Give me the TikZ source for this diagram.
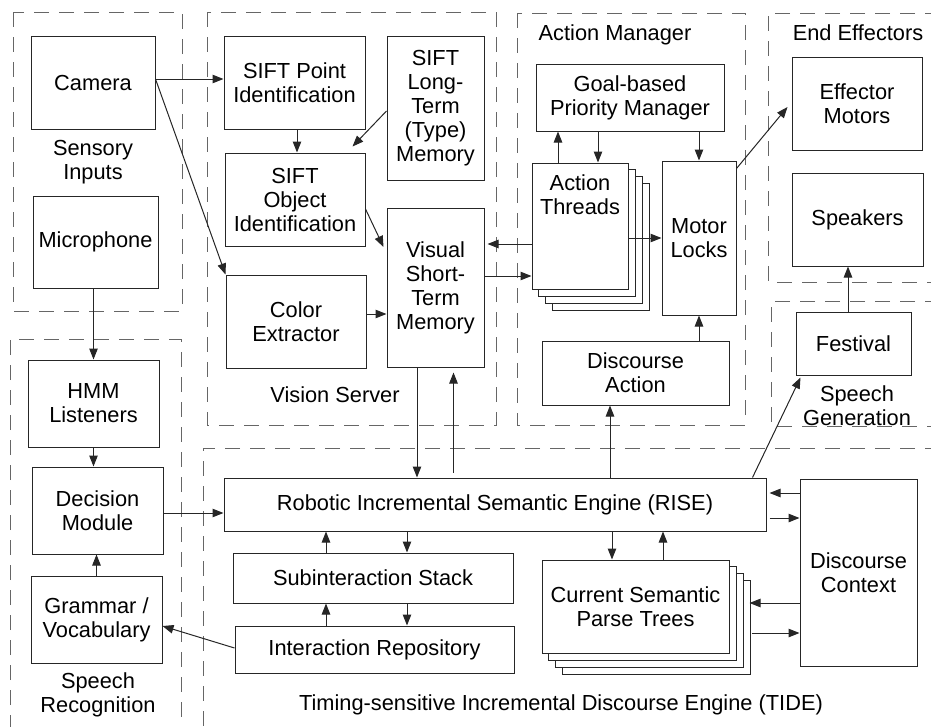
\documentclass[tikz,border=0pt]{standalone}
\usepackage{fontspec}
\setmainfont{Liberation Sans}
\usetikzlibrary{arrows.meta,backgrounds}

\begin{document}
\begin{tikzpicture}[x=1pt,y=-1pt,
  every node/.style={font=\fontsize{21.8}{24}\selectfont, align=center, inner sep=0pt},
  box/.style={draw=black!85, line width=1pt, fill=white},
  region/.style={draw=black!60, line width=0.9pt, dash pattern=on 15pt off 10pt},
  arr/.style={draw=black!85, line width=1pt, -{Triangle[length=11pt,width=8.5pt]}}]
\useasboundingbox (0,0) rectangle (931,726);

% dashed subsystem regions
\draw[region] (13,12) rectangle (182,311);
\draw[region] (10,730) -- (10,339) -- (181,339) -- (181,730);
\draw[region] (207,12) rectangle (496,425);
\draw[region] (517,13) rectangle (745,425);
\draw[region] (940,13) -- (768,13) -- (768,282) -- (940,282);
\draw[region] (940,301) -- (771,301) -- (771,426) -- (940,426);
\draw[region] (940,448) -- (203,448) -- (203,730);

% region titles
\node (lsens) at (93,162) {Sensory\\Inputs};
\node (lsrec) at (98,695) {Speech\\Recognition};
\node (lvis) at (335,395) {Vision Server};
\node (lact) at (615,35) {Action Manager};
\node (lend) at (858,33) {End Effectors};
\node (lsgen) at (857,406) {Speech\\Generation};
\node (ltide) at (561,705) {Timing-sensitive Incremental Discourse Engine (TIDE)};

% sensory inputs and speech recognition
\node[box, minimum width=124pt, minimum height=93pt] (cam) at (93,82.5) {Camera};
\node[box, minimum width=125pt, minimum height=92pt] (mic) at (95.5,242) {Microphone};
\node[box, minimum width=131pt, minimum height=87pt] (hmm) at (93.5,403.5) {HMM\\Listeners};
\node[box, minimum width=131pt, minimum height=87pt] (dec) at (97.5,510.5) {Decision\\Module};
\node[box, minimum width=131pt, minimum height=87pt] (gram) at (96.5,619.5) {Grammar /\\Vocabulary};

% vision server
\node[box, minimum width=141pt, minimum height=93pt] (sp) at (294.5,82.5) {SIFT Point\\Identification};
\node[box, minimum width=97pt, minimum height=144pt] (slt) at (435.5,108) {SIFT\\Long-\\Term\\(Type)\\Memory};
\node[box, minimum width=140pt, minimum height=93pt] (so) at (295,199.5) {SIFT\\Object\\Identification};
\node[box, minimum width=140pt, minimum height=93pt] (col) at (296,321.5) {Color\\Extractor};
\node[box, minimum width=97pt, minimum height=159pt] (vstm) at (435.5,287.5) {Visual\\Short-\\Term\\Memory};

% action manager
\node[box, minimum width=188pt, minimum height=67pt] (goal) at (630,97.5) {Goal-based\\Priority Manager};
\node[box, minimum width=96pt, minimum height=126pt] (at) at (580,226) {};
\node (attxt) at (580,195) {Action\\Threads};
\node[box, minimum width=74pt, minimum height=154pt] (ml) at (699,238) {Motor\\Locks};
\node[box, minimum width=187pt, minimum height=64pt] (da) at (635.5,373) {Discourse\\Action};

% end effectors and speech generation
\node[box, minimum width=130pt, minimum height=93pt] (em) at (857,103.5) {Effector\\Motors};
\node[box, minimum width=131pt, minimum height=93pt] (spk) at (857.5,219.5) {Speakers};
\node[box, minimum width=115pt, minimum height=63pt] (fest) at (853.5,343.5) {Festival};

% discourse engine
\node[box, minimum width=542pt, minimum height=53pt] (rise) at (495,504.5) {Robotic Incremental Semantic Engine (RISE)};
\node[box, minimum width=280pt, minimum height=50pt] (ss) at (373,578) {Subinteraction Stack};
\node[box, minimum width=279pt, minimum height=47pt] (ir) at (374.5,649.5) {Interaction Repository};
\node[box, minimum width=187pt, minimum height=93pt] (cspt) at (635.5,606.5) {Current Semantic\\Parse Trees};
\node[box, minimum width=117pt, minimum height=187pt] (dc) at (858.5,572.5) {Discourse\\Context};

% stacked copies behind the multi-instance boxes
\begin{scope}[on background layer]
  \foreach \d in {21,14,7} {
    \draw[box] ([shift={(\d pt,-\d pt)}]at.north west) rectangle ([shift={(\d pt,-\d pt)}]at.south east);
    \draw[box] ([shift={(\d pt,-\d pt)}]cspt.north west) rectangle ([shift={(\d pt,-\d pt)}]cspt.south east);
  }
\end{scope}

% connectors
\draw[arr] ([yshift=3.5pt]cam.east) -- ([yshift=3.5pt]sp.west);
\draw[arr] ([yshift=3.5pt]cam.east) -- (col.north west);
\draw[arr] (mic.south -| hmm.north) -- (hmm.north);
\draw[arr] (hmm.south) -- (hmm.south |- dec.north);
\draw[arr] (gram.north) -- (gram.north |- dec.south);
\draw[arr] ([yshift=-2.5pt]dec.east) -- ([yshift=-2.5pt]dec.east -| rise.west);
\draw[arr] ([yshift=1.5pt]ir.west) -- ([yshift=-6.5pt]gram.east);

\draw[arr] ([xshift=2.5pt]sp.south) -- ([xshift=2.5pt]sp.south |- so.north);
\draw[arr] ([yshift=-3pt]slt.west) -- ([shift={(-13pt,6pt)}]so.north east);
\draw[arr] ([yshift=-9.5pt]so.east) -- ([shift={(-3pt,40.5pt)}]vstm.west);
\draw[arr] ([yshift=7.5pt]col.east) -- ([yshift=7.5pt]col.east -| vstm.west);
\draw[arr] ([yshift=11.5pt]vstm.east) -- ([yshift=11.5pt]vstm.east -| at.west);
\draw[arr, shorten >=3pt] ([yshift=-18pt]at.west) -- ([yshift=-18pt]at.west -| vstm.east);

\draw[arr] ([xshift=-22pt]at.north) -- ([xshift=-22pt]at.north |- goal.south);
\draw[arr] ([xshift=18pt]at.north |- goal.south) -- ([xshift=18pt]at.north);
\draw[arr] (ml.north |- goal.south) -- (ml.north);
\draw[arr] (ml.west -| at.east) -- (ml.west);
\draw[arr] ([yshift=-8pt]ml.north east) -- ([shift={(-4pt,-3.5pt)}]em.west);
\draw[arr] (ml.south |- da.north) -- (ml.south);
\draw[arr] ([xshift=-5.5pt]fest.north) -- ([xshift=-5.5pt]fest.north |- spk.south);
\draw[arr] ([xshift=-14pt]rise.north east) -- ([shift={(5pt,-2pt)}]fest.south west);
\draw[arr] ([xshift=115pt]rise.north) -- ([xshift=115pt]rise.north |- da.south);

\draw[arr] ([xshift=-18.5pt]vstm.south) -- ([xshift=-18.5pt]vstm.south |- rise.north);
\draw[arr, shorten <=5pt, shorten >=5pt] ([xshift=18pt]vstm.south |- rise.north) -- ([xshift=18pt]vstm.south);

\draw[arr, shorten >=3pt] ([yshift=11.5pt]rise.east -| dc.west) -- ([yshift=11.5pt]rise.east);
\draw[arr, shorten <=3pt] ([yshift=-13.5pt]rise.east) -- ([yshift=-13.5pt]rise.east -| dc.west);

\draw[arr] ([xshift=-23.5pt]cspt.north |- rise.south) -- ([xshift=-23.5pt]cspt.north);
\draw[arr] ([xshift=27.5pt]cspt.north) -- ([xshift=27.5pt]cspt.north |- rise.south);
\draw[arr] ([yshift=3.5pt]cspt.east -| dc.west) -- ([shift={(20pt,3.5pt)}]cspt.east);
\draw[arr] ([shift={(22pt,-26.5pt)}]cspt.east) -- ([yshift=-26.5pt]cspt.east -| dc.west);

\draw[arr] ([xshift=34pt]ss.north |- rise.south) -- ([xshift=34pt]ss.north);
\draw[arr] ([xshift=-47pt]ss.north) -- ([xshift=-47pt]ss.north |- rise.south);
\draw[arr] ([xshift=-47pt]ss.south |- ir.north) -- ([xshift=-47pt]ss.south);
\draw[arr] ([xshift=34pt]ss.south) -- ([xshift=34pt]ss.south |- ir.north);
\end{tikzpicture}
\end{document}
